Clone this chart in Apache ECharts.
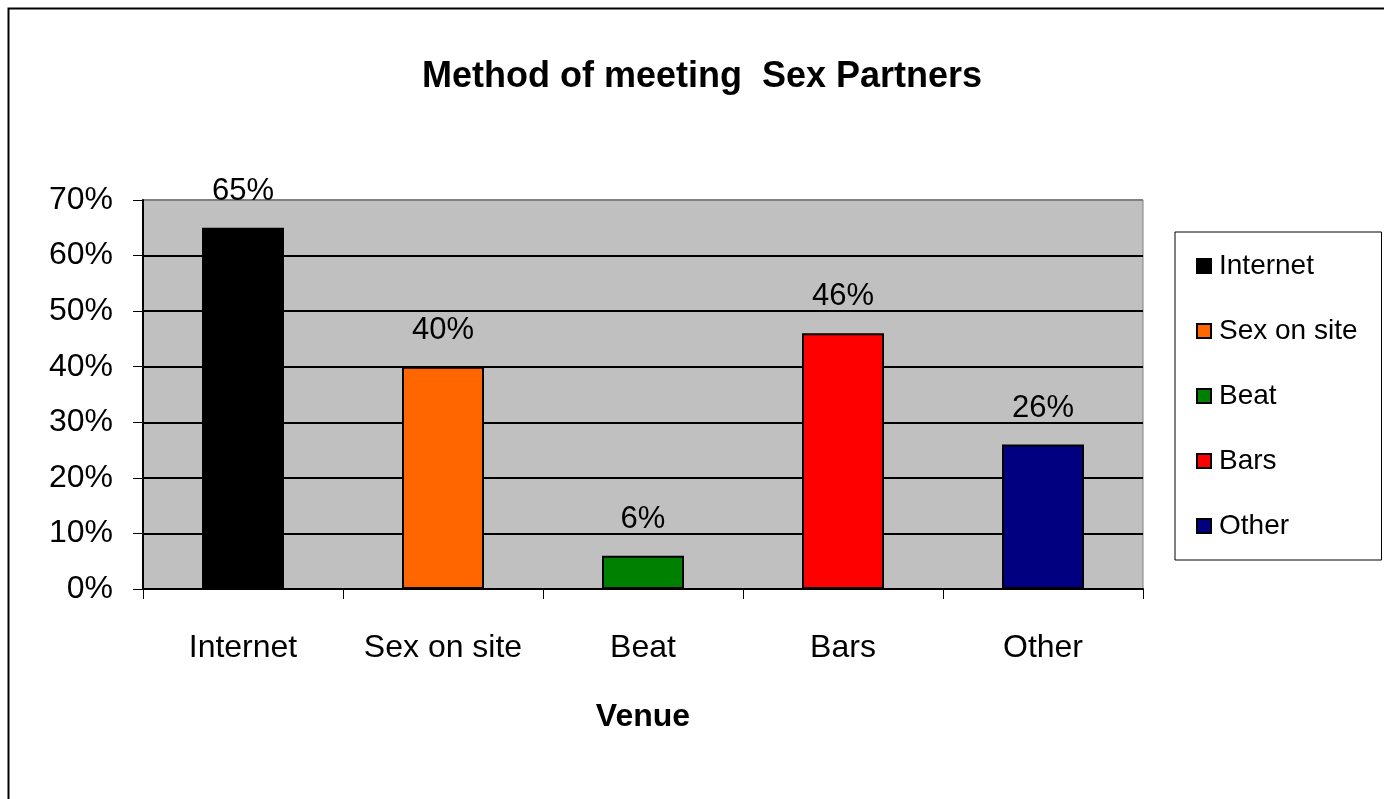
<!DOCTYPE html>
<html>
<head>
<meta charset="utf-8">
<style>html,body{margin:0;padding:0;background:#fff;}#chart{width:1384px;height:799px;}</style>
<script src="https://cdn.jsdelivr.net/npm/echarts@6/dist/echarts.min.js"></script>
</head>
<body>
<div id="chart"></div>
<script>
const categories = ['Internet', 'Sex on site', 'Beat', 'Bars', 'Other'];
const values = [65, 40, 6, 46, 26];
const colors = ['#000000', '#FF6600', '#008000', '#FF0000', '#000080'];
const yTicks = [0, 10, 20, 30, 40, 50, 60, 70];

const FONT = '"Liberation Sans", Arial, sans-serif';
const chart = echarts.init(document.getElementById('chart'), null, {renderer: 'canvas'});

const series = categories.map((name, i) => ({
  name: name,
  type: 'bar',
  barWidth: 82,
  barGap: '-100%',
  itemStyle: {color: colors[i], borderColor: '#000', borderWidth: 2},
  label: {
    show: true, position: 'top', distance: 21,
    formatter: '{c}%', fontFamily: FONT, fontSize: 31, color: '#000'
  },
  data: categories.map((c, j) => (j === i ? values[i] : null))
}));

chart.setOption({
  animation: false,
  backgroundColor: '#fff',
  textStyle: {fontFamily: FONT},
  title: {
    text: 'Method of meeting  Sex Partners',
    left: 697, top: 54, textAlign: 'center',
    textStyle: {fontFamily: FONT, fontSize: 36, fontWeight: 'bold', color: '#000'}
  },
  grid: {
    left: 143, right: 241, top: 200, bottom: 210,
    show: true, backgroundColor: '#C0C0C0', borderColor: '#808080', borderWidth: 1
  },
  legend: {
    orient: 'vertical',
    left: 1175, top: 232,
    padding: [19, 24, 19, 21],
    backgroundColor: '#fff',
    borderColor: '#000', borderWidth: 1,
    itemWidth: 14, itemHeight: 14, itemGap: 35,
    icon: 'rect',
    textStyle: {fontFamily: FONT, fontSize: 28, color: '#000', lineHeight: 30, padding: [0, 0, 0, 3]},
    data: categories
  },
  xAxis: {
    type: 'category',
    data: categories,
    name: 'Venue',
    nameLocation: 'middle',
    nameGap: 112,
    nameTextStyle: {fontFamily: FONT, fontSize: 32, fontWeight: 'bold', color: '#000'},
    axisLine: {lineStyle: {color: '#000', width: 2}},
    axisTick: {show: true, length: 10, lineStyle: {color: '#000'}},
    axisLabel: {fontFamily: FONT, fontSize: 32, color: '#000', margin: 43, interval: 0}
  },
  yAxis: {
    type: 'value',
    min: yTicks[0], max: yTicks[yTicks.length - 1], interval: 10,
    axisLine: {show: true, lineStyle: {color: '#000', width: 2}},
    axisTick: {show: true, length: 10, lineStyle: {color: '#000'}},
    axisLabel: {fontFamily: FONT, fontSize: 32, color: '#000', margin: 30, formatter: '{value}%'},
    splitLine: {show: true, lineStyle: {color: ['#000', '#000', '#000', '#000', '#000', '#000', '#000', '#808080'], width: 2}}
  },
  series: series,
  graphic: [{
    type: 'rect',
    shape: {x: 8.5, y: 8.5, width: 1400, height: 820},
    style: {fill: 'none', stroke: '#000', lineWidth: 2},
    silent: true,
    z: 100
  }]
});
</script>
</body>
</html>
